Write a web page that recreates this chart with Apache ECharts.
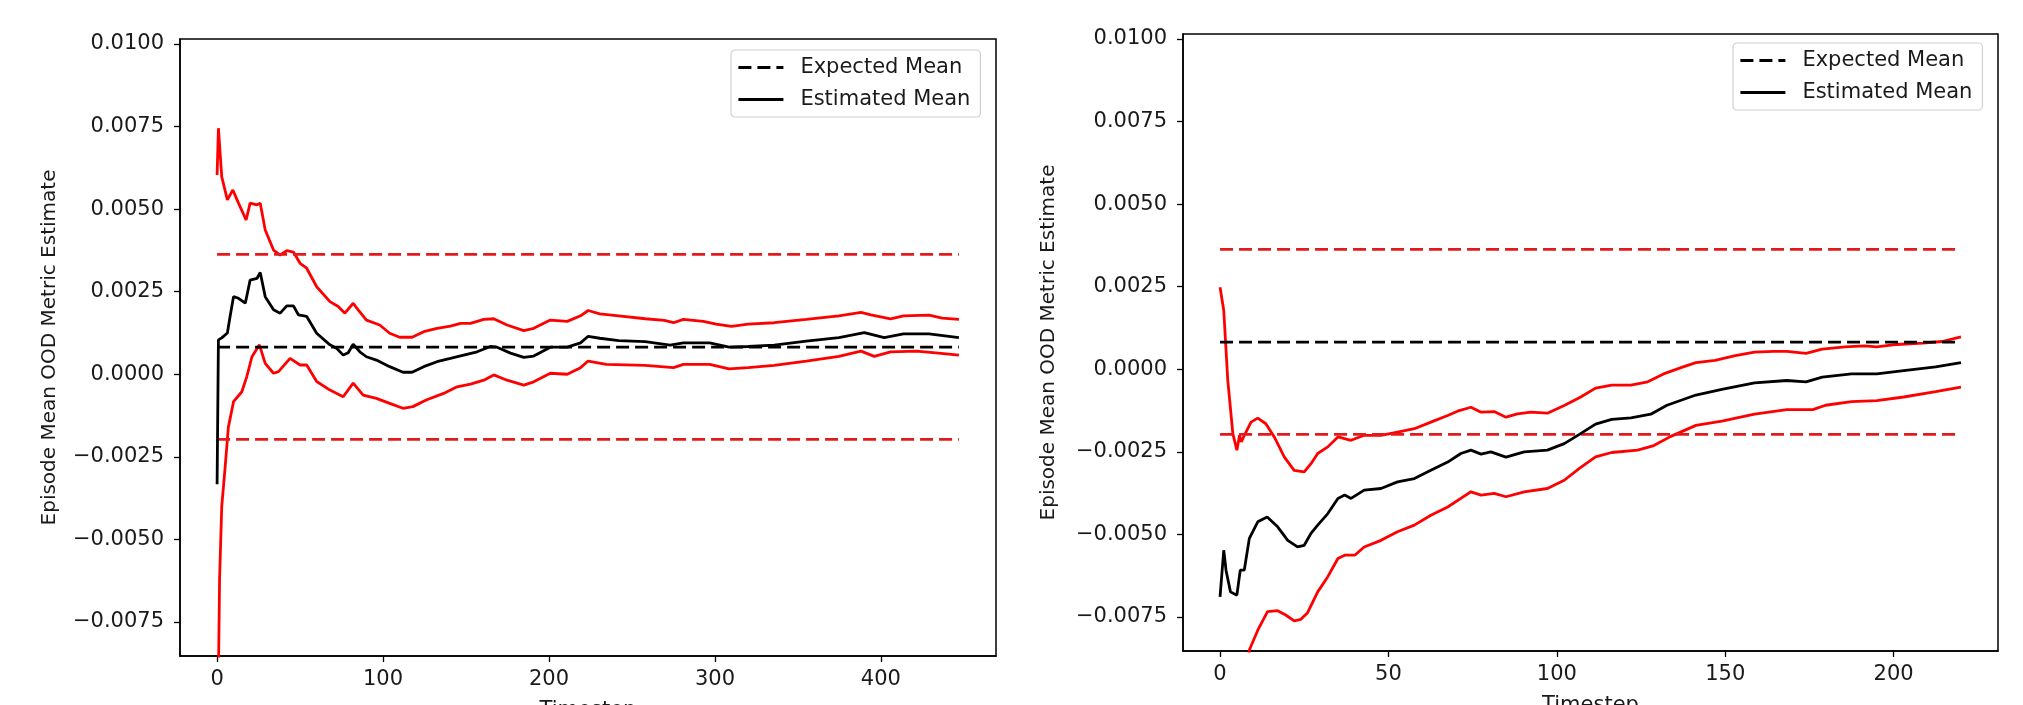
<!DOCTYPE html>
<html>
<head>
<meta charset="utf-8">
<script src="https://cdn.jsdelivr.net/npm/echarts@6/dist/echarts.min.js"></script>
<style>
html,body{margin:0;padding:0;background:#fff;}
#chart{width:2023px;height:705px;}
</style>
</head>
<body>
<div id="chart"></div>
<script>
// ---------- data ----------
const expectedMean = 0.00082;
const upperBound = 0.00363;
const lowerBound = -0.00197;

const yTicks = [-0.0075, -0.005, -0.0025, 0, 0.0025, 0.005, 0.0075, 0.01];
const xTicksLeft = [0, 100, 200, 300, 400];
const xTicksRight = [0, 50, 100, 150, 200];
const leftLastT = 447;
const rightLastT = 220;

// Left panel
const leftMeanT = [0,0.8,2.8,6.2,7.8,9.9,12.9,17,19.9,24,26,29,34,38,42,46,49,54,60,68,72,76,79,82,86,90,96,104,112,117.5,124.5,132.5,140.6,148.6,156.7,164.7,168.7,176.8,184.8,190.8,200.8,211,219,223.6,230.6,242,258,273,281,296.8,308.5,320,335.7,355,374.7,390,402,413.6,429,447];
const leftMeanV = [-0.00333,0.00104,0.0011,0.00125,0.00174,0.00235,0.0023,0.00215,0.00285,0.0029,0.00308,0.00235,0.00195,0.00185,0.00207,0.00207,0.0018,0.00175,0.00124,0.00089,0.00079,0.00058,0.00065,0.00091,0.00068,0.00053,0.00043,0.00023,0.00006,0.00006,0.00023,0.00038,0.00048,0.00058,0.00068,0.00084,0.00082,0.00064,0.00051,0.00055,0.00082,0.00082,0.00095,0.00115,0.00109,0.00102,0.00099,0.00088,0.00095,0.00095,0.00082,0.00084,0.00088,0.001,0.00111,0.00126,0.00111,0.00122,0.00122,0.00111];

const leftUpperT = [0,0.8,2.8,6.2,9.5,12.9,17.5,19.9,24,26,29,34,38,42,46,50,54,60,68,73,77,82,85,90,98,104,110,117.5,124.5,132.5,140.6,146.7,152.7,160.7,166.7,174.7,184.8,190.8,200.8,211,219,223.6,230.6,242,258,269.5,275,281,293,300.7,310,320,335.7,355,374.7,388,394,405.8,413.6,429,437,447];
const leftUpperV = [0.00603,0.00745,0.00598,0.00528,0.00558,0.00518,0.00467,0.00518,0.00513,0.00518,0.00437,0.00376,0.00361,0.00374,0.0037,0.00336,0.00321,0.00265,0.0022,0.00205,0.00185,0.00215,0.00195,0.00164,0.00149,0.00124,0.00112,0.00112,0.00129,0.00139,0.00146,0.00154,0.00154,0.00166,0.00168,0.00149,0.00132,0.00139,0.00164,0.0016,0.00177,0.00193,0.00183,0.00177,0.00168,0.00163,0.00156,0.00166,0.0016,0.00152,0.00145,0.00152,0.00156,0.00166,0.00177,0.00187,0.0018,0.00168,0.00177,0.00179,0.0017,0.00166];

const leftLowerT = [0,1.5,2.8,4.7,6.8,9.9,14.9,17.9,21,25.5,29,34,37,44,50,54,60,68,76,82,88,96,104,112,118,126,136.5,144.6,152.7,160.7,166.7,174.7,184.8,190.8,200.8,211,219,223.6,234.5,258,275,281,296.8,308.5,320,335.7,355,374.7,388,396,405.8,421.4,433,447];
const leftLowerV = [-0.0126,-0.0062,-0.004,-0.0029,-0.0016,-0.00083,-0.00053,-0.00007,0.00053,0.00089,0.00033,0.00003,0.00008,0.00048,0.00028,0.00028,-0.00022,-0.00048,-0.00068,-0.00027,-0.00063,-0.00073,-0.00088,-0.00103,-0.00098,-0.00078,-0.00058,-0.00038,-0.0003,-0.00018,-0.00002,-0.00018,-0.00033,-0.00023,0.00003,0.0,0.0002,0.0004,0.0003,0.00027,0.0002,0.0003,0.0003,0.00016,0.0002,0.00027,0.0004,0.00054,0.0007,0.00054,0.00068,0.0007,0.00065,0.00058];

// Right panel
const rightMeanT = [0,1.1,1.8,3.1,5,6,7.2,8.7,11.2,14,17.1,20.1,23,25,27,29,32,35,37,38.9,42.8,47.8,52.7,57.7,62.6,67.6,71.5,74.5,77.5,80.4,84.9,90.3,97.2,102.2,106.7,111.5,116.3,122,127.9,132.7,141.3,149,158.7,168.3,174,178.8,187.5,195,203,212.5,220];
const rightMeanV = [-0.00689,-0.00548,-0.0061,-0.00674,-0.00684,-0.00608,-0.00608,-0.00512,-0.00462,-0.00447,-0.00477,-0.00518,-0.00538,-0.00533,-0.00497,-0.00472,-0.00437,-0.00391,-0.00381,-0.00391,-0.00366,-0.00361,-0.00341,-0.00331,-0.00306,-0.00281,-0.00255,-0.00245,-0.00257,-0.0025,-0.00266,-0.0025,-0.00245,-0.00225,-0.00197,-0.00166,-0.00152,-0.00147,-0.00136,-0.00109,-0.00078,-0.00061,-0.00041,-0.00034,-0.00038,-0.00024,-0.00014,-0.00014,-0.00004,0.00007,0.0002];

const rightUpperT = [0,1.1,2.3,3.8,5,5.8,6.3,7.7,9.2,11.2,13.6,16.1,19.1,22,25,27,29,32,35,38.9,42.8,47.8,52.7,57.7,62.6,67.6,70.5,74.5,77.5,81.4,84.9,88.3,92.3,97.2,102.2,107.1,111.5,116.3,122,127,131.7,137.5,141.3,147,153,158.7,164.4,168.3,174,178.8,185.6,191.3,195,201,208.7,214.4,220];
const rightUpperV = [0.00248,0.00178,-0.00034,-0.00195,-0.00245,-0.002,-0.0022,-0.0019,-0.0016,-0.00148,-0.00165,-0.00205,-0.00266,-0.00306,-0.00311,-0.00286,-0.00255,-0.00235,-0.00205,-0.00215,-0.002,-0.002,-0.0019,-0.0018,-0.0016,-0.0014,-0.00127,-0.00115,-0.0013,-0.00128,-0.00145,-0.00135,-0.0013,-0.00133,-0.0011,-0.00084,-0.00057,-0.00048,-0.00048,-0.00038,-0.00014,0.00007,0.0002,0.00027,0.00041,0.00052,0.00054,0.00054,0.00048,0.00061,0.00068,0.00071,0.00068,0.00075,0.00079,0.00084,0.00098];

const rightLowerT = [0,3,5,7,8.7,11.2,14.1,17.1,19.5,22,24,26,29,32,35,37,40,42.8,47.8,52.7,57.7,62.6,67.6,71.5,74.5,77.5,81.4,84.9,90.3,97.2,102.2,106.7,111.5,116.3,124,128.8,133.7,141.3,149,158.7,168.3,176,179.8,187.5,195,203,212.5,220];
const rightLowerV = [-0.0163,-0.0125,-0.0112,-0.0098,-0.0085,-0.0079,-0.00734,-0.00731,-0.00744,-0.00762,-0.00757,-0.00737,-0.00674,-0.00628,-0.00573,-0.00563,-0.00563,-0.00538,-0.00518,-0.00492,-0.00472,-0.00442,-0.00417,-0.00391,-0.00371,-0.00381,-0.00376,-0.00386,-0.00371,-0.00361,-0.00336,-0.003,-0.00265,-0.00252,-0.00245,-0.00231,-0.00204,-0.0017,-0.00157,-0.00136,-0.00122,-0.00122,-0.00109,-0.00098,-0.00095,-0.00084,-0.00068,-0.00054];

// ---------- chart ----------
const FONT = 'DejaVu Sans';
const FS = 21;
const TXT = '#1a1a1a';
const RED = '#ff0000';
const DRED = '#e31a1c';
const LW = 2.8;
const zip = (t, v) => t.map((x, i) => [x, v[i]]);
const fmtY = v => v.toFixed(4).replace('-', '\u2212');

function xAxisFor(gi, ticks, lastT) {
  const pad = lastT * 0.05;
  return {
    type: 'value', gridIndex: gi, min: -pad, max: lastT + pad,
    name: 'Timestep', nameLocation: 'middle', nameGap: 44,
    nameTextStyle: {fontFamily: FONT, fontSize: FS, color: TXT},
    axisLine: {show: true, onZero: false, lineStyle: {color: '#000', width: 1.5}},
    axisTick: {show: true, length: 6, lineStyle: {color: '#000', width: 1.3}, customValues: ticks},
    axisLabel: {fontFamily: FONT, fontSize: FS, color: TXT, margin: 13, customValues: ticks, formatter: v => String(v)},
    splitLine: {show: false}
  };
}
function yAxisFor(gi, gap) {
  return {
    type: 'value', gridIndex: gi, min: -0.00853, max: 0.01015,
    name: 'Episode Mean OOD Metric Estimate', nameLocation: 'middle', nameGap: gap,
    nameTextStyle: {fontFamily: FONT, fontSize: 20, color: TXT},
    axisLine: {show: true, onZero: false, lineStyle: {color: '#000', width: 1.5}},
    axisTick: {show: true, length: 6, lineStyle: {color: '#000', width: 1.3}, customValues: yTicks},
    axisLabel: {fontFamily: FONT, fontSize: FS, color: TXT, margin: 16, customValues: yTicks, formatter: fmtY},
    splitLine: {show: false}
  };
}
function lineSeries(name, gi, data, color, dashed, z) {
  return {
    name: name, type: 'line', xAxisIndex: gi, yAxisIndex: gi, data: data,
    showSymbol: false, symbol: 'none', smooth: false, clip: true, silent: true, z: z,
    lineStyle: {color: color, width: LW, type: dashed ? [13, 6] : 'solid'},
    itemStyle: {color: color}
  };
}
function panelSeries(gi, lastT, meanT, meanV, upT, upV, loT, loV) {
  return [
    lineSeries('Expected Mean', gi, [[0, expectedMean], [lastT, expectedMean]], '#000', true, 3),
    lineSeries('Estimated Mean', gi, zip(meanT, meanV), '#000', false, 4),
    lineSeries('upper', gi, zip(upT, upV), RED, false, 2),
    lineSeries('lower', gi, zip(loT, loV), RED, false, 2),
    lineSeries('upperBound', gi, [[0, upperBound], [lastT, upperBound]], DRED, true, 3),
    lineSeries('lowerBound', gi, [[0, lowerBound], [lastT, lowerBound]], DRED, true, 3)
  ];
}
function legendFor(left, top) {
  return {
    data: ['Expected Mean', 'Estimated Mean'], orient: 'vertical',
    left: left, top: top, itemWidth: 45, itemHeight: 14, itemGap: 11,
    padding: [7, 10, 7, 6], backgroundColor: '#fff', borderColor: '#d0d0d0', borderWidth: 1.2, borderRadius: 4,
    selectedMode: false,
    itemStyle: {opacity: 0, borderWidth: 0},
    lineStyle: {width: LW},
    textStyle: {fontFamily: FONT, fontSize: FS, color: TXT, padding: [0, 0, 0, 12]}
  };
}

const chart = echarts.init(document.getElementById('chart'), null, {renderer: 'canvas'});
chart.setOption({
  backgroundColor: '#fff',
  animation: false,
  grid: [
    {left: 180, top: 39, width: 816, height: 617, show: true, borderColor: '#000', borderWidth: 1.5, backgroundColor: 'transparent', containLabel: false, outerBoundsMode: 'none'},
    {left: 1183, top: 34, width: 815, height: 617, show: true, borderColor: '#000', borderWidth: 1.5, backgroundColor: 'transparent', containLabel: false, outerBoundsMode: 'none'}
  ],
  legend: [legendFor(731, 50), legendFor(1733, 43)],
  xAxis: [xAxisFor(0, xTicksLeft, leftLastT), xAxisFor(1, xTicksRight, rightLastT)],
  yAxis: [yAxisFor(0, 120), yAxisFor(1, 124)],
  series: [].concat(
    panelSeries(0, leftLastT, leftMeanT, leftMeanV, leftUpperT, leftUpperV, leftLowerT, leftLowerV),
    panelSeries(1, rightLastT, rightMeanT, rightMeanV, rightUpperT, rightUpperV, rightLowerT, rightLowerV)
  )
});
</script>
</body>
</html>
